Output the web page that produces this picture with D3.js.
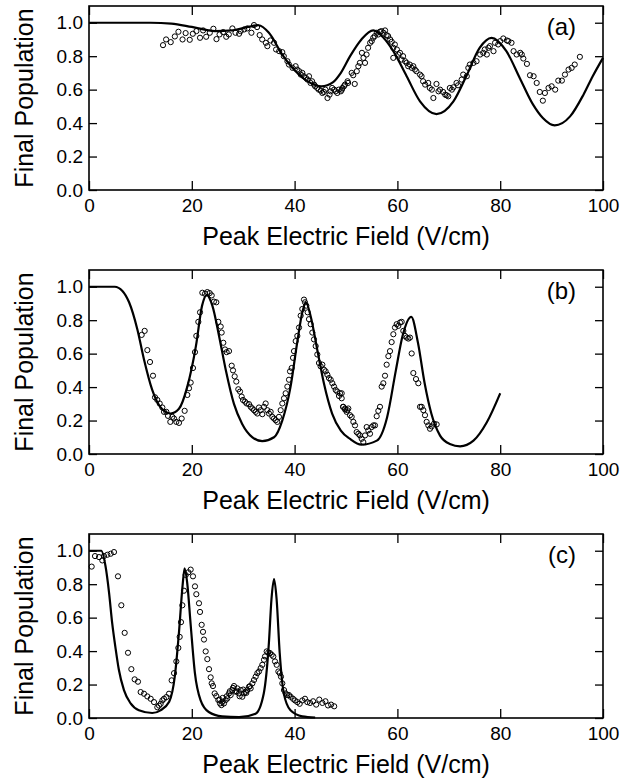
<!DOCTYPE html>
<html lang="en">
<head>
<meta charset="UTF-8"/>
<title>Final population vs peak electric field</title>
<script src="https://d3js.org/d3.v7.min.js"></script>
<style>
  body { margin: 0; background: #fff; }
  text { font-family: "Liberation Sans", Arial, Helvetica, sans-serif; fill: #000; }
  .tick text { font-size: 19px; }
  .tick line { stroke: #000; stroke-width: 1.3px; }
  path.theory { fill: none; stroke: #000; stroke-width: 2.2px; }
  circle.dot { fill: none; stroke: #000; stroke-width: 1px; }
</style>
</head>
<body>
<script>
// axis ticks
var xTicks = [0, 20, 40, 60, 80, 100];
var yTicks = [0, 0.2, 0.4, 0.6, 0.8, 1.0];
var panelLabels = ["(a)", "(b)", "(c)"];

// panel (a): theory curve
var aLineX = [0, 12, 16, 20, 24.5, 28, 31, 33, 35, 37.6, 40.2, 42.8, 45.2, 47.5, 49, 50.8, 53, 55.3, 57.3, 59.2, 61.8, 64.4, 67.6, 70.9, 73.4, 76, 78.3, 81.2, 83.8, 86.4, 88.3, 90.6, 93.6, 96.2, 98, 100];
var aLineY = [1.0, 1.0, 0.995, 0.975, 0.95, 0.955, 0.975, 0.985, 0.94, 0.81, 0.71, 0.645, 0.62, 0.645, 0.70, 0.80, 0.90, 0.954, 0.91, 0.83, 0.68, 0.53, 0.454, 0.53, 0.68, 0.85, 0.91, 0.83, 0.67, 0.51, 0.43, 0.386, 0.44, 0.57, 0.68, 0.79];
// panel (a): measured
var aDotX = [14.4, 15.0, 15.9, 16.7, 17.4, 18.2, 18.8, 19.6, 20.2, 20.9, 21.6, 22.2, 22.8, 23.5, 24.2, 24.8, 25.4, 26.1, 26.7, 27.2, 27.9, 28.5, 29.2, 29.5, 30.2, 30.8, 31.6, 32.1, 32.7, 33.2, 33.7, 34.4, 34.7, 35.3, 36.0, 36.4, 37.0, 37.6, 37.9, 38.6, 38.9, 39.6, 40.2, 40.5, 40.9, 41.2, 41.5, 41.8, 42.2, 42.5, 42.8, 43.1, 43.4, 43.8, 44.0, 44.4, 44.7, 45.1, 45.4, 45.7, 46.0, 46.4, 46.8, 47.0, 47.3, 47.7, 48.0, 48.3, 48.6, 49.0, 49.3, 49.6, 50.3,
  49.2, 49.8, 50.4, 51.1, 51.7, 51.4, 52.1, 52.4, 52.7, 53.4, 53.1, 53.7, 54.0, 54.3, 54.7, 55.0, 55.3, 55.6, 56.0, 56.3, 56.6, 56.9, 57.3, 57.6, 57.9, 58.2, 58.6, 58.9, 59.2, 59.5, 59.9, 60.2, 59.2, 60.5, 60.8, 61.1, 61.5, 61.8, 62.1, 62.4, 62.8, 63.1, 63.4, 63.7, 64.4, 64.7, 65.0, 65.4, 66.0, 66.3, 66.7, 67.0, 67.6, 68.0, 68.3, 68.9, 69.3, 69.6, 69.9, 70.2, 70.6, 70.9, 71.5, 71.8, 72.5, 72.8, 73.5, 73.8, 74.1, 74.8, 75.4, 76.1, 76.7, 77.0, 77.4, 77.7, 78.0, 78.7, 79.0, 79.6, 80.0, 80.6, 81.3, 81.6, 82.2, 82.6, 83.2, 83.9, 84.2, 84.5, 85.2, 85.8, 86.5, 87.1, 87.7, 88.3, 88.7, 89.4, 90.0, 90.7, 91.3, 92.0, 92.6, 93.3, 93.9, 94.5, 95.5];
var aDotY = [0.866, 0.90, 0.884, 0.918, 0.946, 0.90, 0.938, 0.898, 0.934, 0.95, 0.91, 0.954, 0.916, 0.94, 0.964, 0.902, 0.93, 0.944, 0.916, 0.93, 0.966, 0.94, 0.934, 0.95, 0.96, 0.966, 0.94, 0.986, 0.974, 0.926, 0.90, 0.88, 0.86, 0.894, 0.88, 0.84, 0.83, 0.824, 0.80, 0.77, 0.75, 0.73, 0.74, 0.72, 0.71, 0.69, 0.70, 0.68, 0.67, 0.66, 0.68, 0.64, 0.65, 0.63, 0.62, 0.61, 0.60, 0.594, 0.58, 0.586, 0.60, 0.55, 0.57, 0.59, 0.61, 0.60, 0.59, 0.58, 0.60, 0.59, 0.61, 0.62, 0.65,
  0.60, 0.63, 0.64, 0.70, 0.634, 0.686, 0.71, 0.74, 0.76, 0.79, 0.82, 0.76, 0.81, 0.85, 0.88, 0.89, 0.91, 0.92, 0.94, 0.93, 0.946, 0.95, 0.94, 0.954, 0.926, 0.92, 0.90, 0.886, 0.85, 0.87, 0.84, 0.81, 0.79, 0.82, 0.78, 0.80, 0.77, 0.76, 0.74, 0.75, 0.73, 0.74, 0.72, 0.71, 0.69, 0.68, 0.65, 0.63, 0.64, 0.61, 0.60, 0.55, 0.634, 0.59, 0.60, 0.586, 0.57, 0.566, 0.56, 0.61, 0.60, 0.614, 0.64, 0.626, 0.66, 0.69, 0.68, 0.73, 0.75, 0.76, 0.77, 0.81, 0.82, 0.84, 0.81, 0.85, 0.86, 0.83, 0.88, 0.87, 0.89, 0.906, 0.894, 0.89, 0.88, 0.83, 0.81, 0.82, 0.81, 0.786, 0.754, 0.686, 0.68, 0.64, 0.586, 0.534, 0.58, 0.61, 0.62, 0.60, 0.654, 0.654, 0.69, 0.72, 0.73, 0.75, 0.796];

// panel (b): theory curve
var bLineX = [0, 5, 6.5, 7.8, 9.4, 10.7, 12.3, 13.9, 15.9, 17.5, 19.1, 20.8, 22, 22.9, 24, 25.3, 26.6, 28.2, 29.8, 31.8, 33.7, 36, 37.6, 39.2, 40.5, 41.5, 42.2, 43.1, 44.4, 45.7, 47.3, 49, 50.8, 53, 56, 58, 59.7, 61, 62.7, 64, 65.3, 66.6, 68.3, 70.2, 72.2, 74.8, 77.4, 80];
var bLineY = [1.0, 1.0, 0.975, 0.907, 0.746, 0.565, 0.383, 0.28, 0.242, 0.27, 0.40, 0.645, 0.887, 0.95, 0.887, 0.706, 0.504, 0.30, 0.18, 0.10, 0.077, 0.10, 0.20, 0.40, 0.665, 0.847, 0.907, 0.827, 0.625, 0.423, 0.242, 0.14, 0.09, 0.056, 0.08, 0.22, 0.50, 0.705, 0.82, 0.665, 0.423, 0.242, 0.11, 0.06, 0.046, 0.08, 0.19, 0.363];
// panel (b): measured
var bDotX = [10.25, 10.83, 11.35, 11.87, 12.45, 12.84, 13.29, 13.75, 14.27, 14.59, 15.05, 15.37, 15.82, 16.21, 16.54, 16.99, 17.51, 18.03, 18.61, 19.13, 19.46, 19.78, 20.23, 20.62, 20.88, 21.27, 21.6, 22.05, 22.57, 23.02, 23.48, 23.87, 24.32, 24.77, 25.16, 25.62, 25.81, 26.13, 26.46, 26.78, 27.24, 27.76, 28.02, 28.34, 28.66, 29.05, 29.38, 29.7, 29.96, 30.35, 30.67, 31.13, 31.45, 31.78, 32.1, 32.43, 32.75, 33.07, 33.4, 33.72, 34.05, 34.37, 34.7, 35.02, 35.34, 35.67, 35.99, 36.32, 36.64, 36.96, 37.29, 37.61, 37.94, 38.26, 38.59, 38.91, 39.11, 39.43, 39.69, 39.88, 40.21, 40.53, 40.86, 41.18, 41.5, 41.83, 42.02, 42.28, 42.54, 42.8, 43.13, 43.45, 43.77, 44.1, 44.42, 44.75, 45.07, 45.4, 45.72, 46.04, 46.37, 46.69, 47.02, 47.34, 47.67, 47.99, 48.31, 48.64, 49.16, 49.42, 49.81, 50.26,
  48.83, 49.16, 49.48, 49.81, 50.13, 50.45, 50.78, 51.1, 51.43, 51.75, 52.07, 52.4, 52.72, 53.05, 53.37, 53.7, 54.02, 54.34, 54.67, 54.99, 55.32, 55.64, 55.97, 56.29, 56.61, 56.94, 57.26, 57.59, 57.91, 58.24, 58.56, 58.88, 59.21, 59.53, 59.86, 60.18, 60.51, 60.83, 61.15, 61.48, 61.8, 62.13, 62.45, 62.78, 63.1, 63.62, 64.07, 64.4, 64.72, 65.05, 65.37, 65.69, 66.02, 66.34, 66.67, 67.12, 67.64];
var bDotY = [0.712, 0.736, 0.621, 0.55, 0.468, 0.339, 0.323, 0.302, 0.278, 0.252, 0.252, 0.228, 0.192, 0.222, 0.212, 0.192, 0.186, 0.212, 0.258, 0.353, 0.393, 0.427, 0.514, 0.609, 0.706, 0.79, 0.847, 0.964, 0.958, 0.968, 0.962, 0.948, 0.911, 0.907, 0.79, 0.762, 0.726, 0.665, 0.625, 0.609, 0.615, 0.528, 0.50, 0.464, 0.433, 0.387, 0.373, 0.343, 0.323, 0.313, 0.302, 0.298, 0.282, 0.272, 0.262, 0.252, 0.242, 0.278, 0.262, 0.238, 0.282, 0.302, 0.262, 0.242, 0.252, 0.222, 0.212, 0.202, 0.192, 0.222, 0.262, 0.302, 0.333, 0.363, 0.403, 0.444, 0.494, 0.514, 0.575, 0.615, 0.675, 0.706, 0.756, 0.827, 0.867, 0.923, 0.907, 0.887, 0.847, 0.806, 0.776, 0.726, 0.685, 0.645, 0.595, 0.544, 0.524, 0.534, 0.504, 0.494, 0.474, 0.454, 0.444, 0.423, 0.403, 0.383, 0.373, 0.347, 0.363, 0.282, 0.272, 0.262,
  0.363, 0.333, 0.282, 0.266, 0.252, 0.272, 0.232, 0.222, 0.192, 0.171, 0.131, 0.121, 0.111, 0.091, 0.071, 0.111, 0.161, 0.141, 0.121, 0.161, 0.171, 0.171, 0.226, 0.258, 0.282, 0.403, 0.423, 0.468, 0.534, 0.585, 0.615, 0.669, 0.716, 0.756, 0.776, 0.766, 0.786, 0.79, 0.736, 0.706, 0.696, 0.69, 0.696, 0.601, 0.484, 0.448, 0.423, 0.282, 0.282, 0.262, 0.232, 0.192, 0.171, 0.151, 0.165, 0.181, 0.177];

// panel (c): theory curve
var cLineX = [0, 2.4, 3.2, 3.9, 4.5, 5.2, 5.8, 6.8, 8.1, 9.7, 12.3, 13.9, 15.6, 16.7, 17.5, 18.2, 18.6, 19.1, 19.8, 20.6, 21.7, 23.3, 25.9, 29.2, 32.4, 34, 35, 35.5, 36, 36.5, 37.1, 37.9, 39.2, 41.5, 44];
var cLineY = [1.0, 1.0, 0.91, 0.75, 0.57, 0.41, 0.29, 0.167, 0.087, 0.046, 0.03, 0.046, 0.097, 0.25, 0.51, 0.79, 0.895, 0.81, 0.55, 0.27, 0.107, 0.036, 0.01, 0.005, 0.026, 0.147, 0.449, 0.71, 0.83, 0.71, 0.39, 0.147, 0.046, 0.01, 0.003];
// panel (c): measured
var cDotX = [0.52, 1.17, 1.95, 2.59, 2.92, 3.57, 4.22, 4.86, 5.64, 6.29, 6.94, 7.59, 8.24, 8.88, 9.53, 10.05, 10.7, 11.35, 12.0, 12.65, 13.29, 13.62, 13.94, 14.27, 14.59, 15.05, 15.56, 16.08, 16.54, 16.99, 17.38, 17.64, 17.9, 18.16, 18.48, 18.81, 19.33, 19.78, 20.23, 20.62, 20.88, 21.4, 21.6, 21.92, 22.18, 22.37, 22.7, 23.02, 23.35, 23.67, 23.87, 24.12, 24.45, 24.77, 25.16, 25.49, 25.75, 25.94, 26.26, 26.59, 26.91, 27.24, 27.56, 27.89, 28.21, 28.53, 28.86, 29.18, 29.51, 29.83, 30.16, 30.48, 30.8, 31.13, 31.45, 31.78, 32.1, 32.43, 32.75, 33.07, 33.4, 33.72, 34.05, 34.24, 34.57, 34.89, 35.21, 35.54, 35.86, 36.19, 36.51, 36.84, 37.09, 37.35, 37.61, 37.94, 38.26, 38.59, 38.91, 39.23, 39.69, 40.08, 40.53, 40.99, 41.5, 42.02, 42.48, 43.0, 43.6, 44.2, 44.8, 45.4, 46.0, 46.5, 47.1, 47.7,
  25.4, 26.0, 26.8, 27.4, 28.0, 28.7, 29.3, 30.0, 30.6, 31.3];
var cDotY = [0.905, 0.968, 0.962, 0.942, 0.968, 0.976, 0.982, 0.992, 0.847, 0.674, 0.509, 0.39, 0.292, 0.231, 0.217, 0.155, 0.145, 0.129, 0.115, 0.095, 0.064, 0.074, 0.085, 0.105, 0.115, 0.125, 0.145, 0.225, 0.268, 0.338, 0.419, 0.485, 0.573, 0.674, 0.761, 0.855, 0.871, 0.887, 0.847, 0.787, 0.74, 0.686, 0.634, 0.557, 0.515, 0.469, 0.398, 0.352, 0.292, 0.243, 0.207, 0.191, 0.147, 0.131, 0.107, 0.087, 0.077, 0.097, 0.087, 0.107, 0.117, 0.147, 0.137, 0.167, 0.191, 0.157, 0.177, 0.147, 0.167, 0.127, 0.147, 0.157, 0.167, 0.187, 0.177, 0.207, 0.227, 0.247, 0.268, 0.278, 0.298, 0.318, 0.348, 0.368, 0.398, 0.392, 0.388, 0.378, 0.368, 0.338, 0.318, 0.278, 0.268, 0.247, 0.207, 0.167, 0.147, 0.137, 0.137, 0.127, 0.115, 0.105, 0.095, 0.085, 0.105, 0.115, 0.095, 0.09, 0.10, 0.08, 0.11, 0.09, 0.10, 0.075, 0.08, 0.07,
  0.11, 0.12, 0.13, 0.16, 0.18, 0.16, 0.13, 0.17, 0.15, 0.19];

var W = 638, H = 781;
var left = 89, right = 603, panelH = 184;
var tops = [6, 270, 534];

var svg = d3.select("body").append("svg")
    .attr("width", W)
    .attr("height", H);

var x = d3.scaleLinear().domain([0, 100]).range([left, right]);

var panels = [
    {lx: aLineX, ly: aLineY, dx: aDotX, dy: aDotY},
    {lx: bLineX, ly: bLineY, dx: bDotX, dy: bDotY},
    {lx: cLineX, ly: cLineY, dx: cDotX, dy: cDotY}
];

panels.forEach(function (p, i) {
    var top = tops[i], bottom = top + panelH;
    var y = d3.scaleLinear().domain([0, 1.1]).range([bottom, top]);
    var g = svg.append("g");

    // axes, ticks pointing inward on all four sides
    g.append("g")
        .attr("transform", "translate(" + left + ",0)")
        .call(d3.axisLeft(y).tickValues(yTicks).tickSize(-8).tickPadding(6).tickFormat(d3.format(".1f")))
        .call(function (a) { a.select(".domain").remove(); });
    g.append("g")
        .attr("transform", "translate(" + right + ",0)")
        .call(d3.axisRight(y).tickValues(yTicks).tickSize(-8).tickFormat(""))
        .call(function (a) { a.select(".domain").remove(); });
    g.append("g")
        .attr("transform", "translate(0," + bottom + ")")
        .call(d3.axisBottom(x).tickValues(xTicks).tickSize(-9).tickPadding(9))
        .call(function (a) { a.select(".domain").remove(); });
    g.append("g")
        .attr("transform", "translate(0," + top + ")")
        .call(d3.axisTop(x).tickValues(xTicks).tickSize(-9).tickFormat(""))
        .call(function (a) { a.select(".domain").remove(); });

    g.append("rect")
        .attr("x", left).attr("y", top)
        .attr("width", right - left).attr("height", panelH)
        .attr("fill", "none").attr("stroke", "#000").attr("stroke-width", 1.6);

    // theory line
    var line = d3.line()
        .x(function (d, k) { return x(p.lx[k]); })
        .y(function (d, k) { return y(p.ly[k]); })
        .curve(d3.curveMonotoneX);
    g.append("path").attr("class", "theory").attr("d", line(p.lx));

    // measured points
    g.selectAll("circle.dot")
        .data(p.dx)
        .enter()
        .append("circle")
        .attr("class", "dot")
        .attr("cx", function (d) { return x(d); })
        .attr("cy", function (d, k) { return y(p.dy[k]); })
        .attr("r", 2.6);

    // labels
    g.append("text")
        .attr("x", right - 27).attr("y", top + 29)
        .attr("text-anchor", "end")
        .style("font-size", "24px")
        .text(panelLabels[i]);

    g.append("text")
        .attr("x", (left + right) / 2).attr("y", bottom + 55)
        .attr("text-anchor", "middle")
        .style("font-size", "25px")
        .text("Peak Electric Field (V/cm)");

    g.append("text")
        .attr("transform", "translate(33," + (top + panelH / 2) + ")rotate(-90)")
        .attr("text-anchor", "middle")
        .style("font-size", "25px")
        .text("Final Population");
});
</script>
</body>
</html>
